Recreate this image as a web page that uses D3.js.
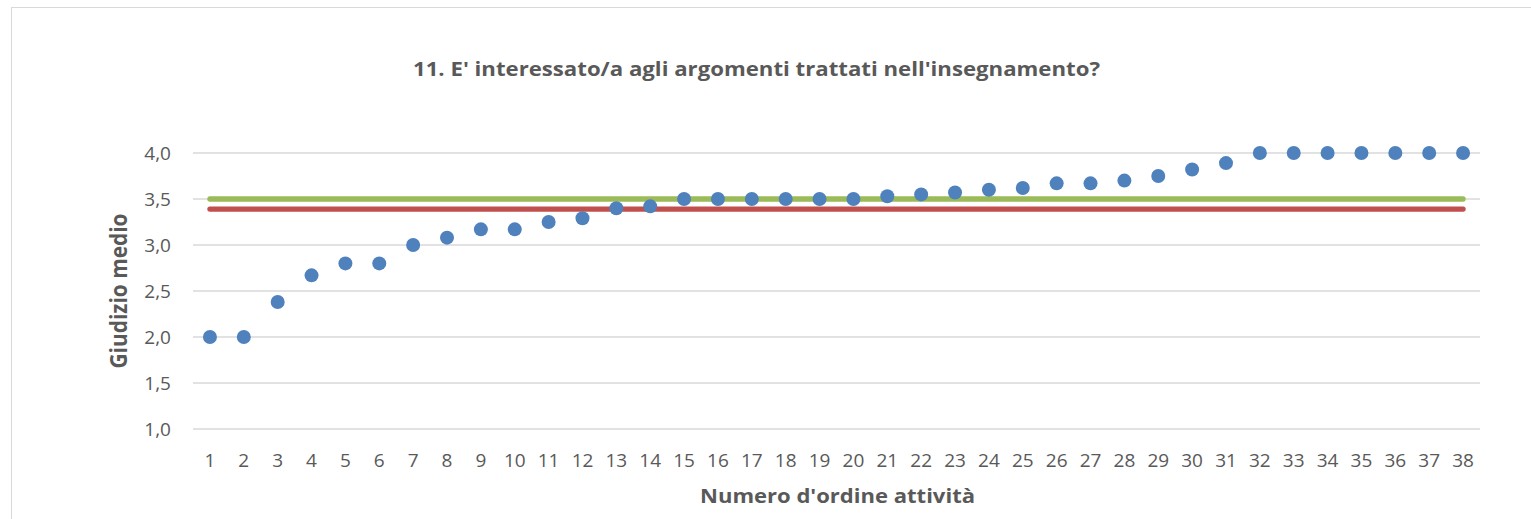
<!DOCTYPE html>
<html>
<head>
<meta charset="utf-8">
<script src="https://cdn.jsdelivr.net/npm/d3@7"></script>
<style>
  body { margin: 0; background: #fff; }
  text { font-family: "Open Sans", "Liberation Sans", sans-serif; }
</style>
</head>
<body>
<div id="chart"></div>
<script>
// data
var activities = d3.range(1, 39);
var scores = [2.0, 2.0, 2.38, 2.67, 2.8, 2.8, 3.0, 3.08, 3.17, 3.17,
              3.25, 3.29, 3.4, 3.42, 3.5, 3.5, 3.5, 3.5, 3.5, 3.5,
              3.53, 3.55, 3.57, 3.6, 3.62, 3.67, 3.67, 3.7, 3.75, 3.82,
              3.89, 4.0, 4.0, 4.0, 4.0, 4.0, 4.0, 4.0];
var greenRef = 3.5;
var redRef = 3.39;
var yTicks = [1.0, 1.5, 2.0, 2.5, 3.0, 3.5, 4.0];

// set the dimensions and margins of the graph
var W = 1531, H = 519;
var margin = { top: 153, right: 51, bottom: 90, left: 193 },
    width = W - margin.left - margin.right,
    height = H - margin.top - margin.bottom;

var root = d3.select("#chart")
    .append("svg")
    .attr("width", W)
    .attr("height", H);

// chart border
root.append("rect")
    .attr("x", 11.5).attr("y", 7.5)
    .attr("width", W + 10).attr("height", H + 10)
    .attr("fill", "none")
    .attr("stroke", "#d9d9d9");

var svg = root.append("g")
    .attr("transform", "translate(" + margin.left + "," + margin.top + ")");

var x = d3.scaleBand()
    .domain(activities)
    .range([0, width]);

var y = d3.scaleLinear()
    .domain([1, 4])
    .range([height, 0]);

var fmt = function (d) { return d3.format(".1f")(d).replace(".", ","); };

// gridlines
svg.append("g")
    .selectAll("line")
    .data(yTicks)
    .enter().append("line")
    .attr("x1", 0).attr("x2", width)
    .attr("y1", function (d) { return y(d); })
    .attr("y2", function (d) { return y(d); })
    .attr("stroke", "#d9d9d9")
    .attr("stroke-width", 1.3);

// y axis
var yAxis = svg.append("g")
    .call(d3.axisLeft(y).tickValues(yTicks).tickFormat(fmt).tickSize(0).tickPadding(22));
yAxis.select(".domain").remove();
yAxis.selectAll("text")
    .style("font-size", "19px")
    .attr("fill", "#595959");

// x axis
var xAxis = svg.append("g")
    .attr("transform", "translate(0," + height + ")")
    .call(d3.axisBottom(x).tickSize(0));
xAxis.select(".domain").remove();
xAxis.selectAll("text")
    .attr("y", 38)
    .attr("dy", 0)
    .style("font-size", "19px")
    .attr("fill", "#595959");

var cx = function (d) { return x(d) + x.bandwidth() / 2; };

// reference lines
[[greenRef, "#9bbb59"], [redRef, "#c0504d"]].forEach(function (r) {
    svg.append("line")
        .attr("x1", cx(activities[0]))
        .attr("x2", cx(activities[activities.length - 1]))
        .attr("y1", y(r[0])).attr("y2", y(r[0]))
        .attr("stroke", r[1])
        .attr("stroke-width", 5.3)
        .attr("stroke-linecap", "round");
});

// points
svg.selectAll(".dot")
    .data(activities)
    .enter().append("circle")
    .attr("class", "dot")
    .attr("cx", function (d) { return cx(d); })
    .attr("cy", function (d, i) { return y(scores[i]); })
    .attr("r", 7)
    .attr("fill", "#4f81bd");

// titles
root.append("text")
    .attr("x", 413).attr("y", 76)
    .attr("textLength", 687)
    .attr("lengthAdjust", "spacingAndGlyphs")
    .style("font-size", "20px")
    .style("font-weight", "bold")
    .attr("fill", "#595959")
    .text("11. E' interessato/a agli argomenti trattati nell'insegnamento?");

root.append("text")
    .attr("x", 700).attr("y", 503)
    .attr("textLength", 275)
    .attr("lengthAdjust", "spacingAndGlyphs")
    .style("font-size", "20px")
    .style("font-weight", "bold")
    .attr("fill", "#595959")
    .text("Numero d'ordine attività");

root.append("text")
    .attr("transform", "translate(127,291) rotate(-90)")
    .attr("text-anchor", "middle")
    .attr("textLength", 155)
    .attr("lengthAdjust", "spacingAndGlyphs")
    .style("font-size", "23px")
    .style("font-weight", "bold")
    .attr("fill", "#595959")
    .text("Giudizio medio");
</script>
</body>
</html>
